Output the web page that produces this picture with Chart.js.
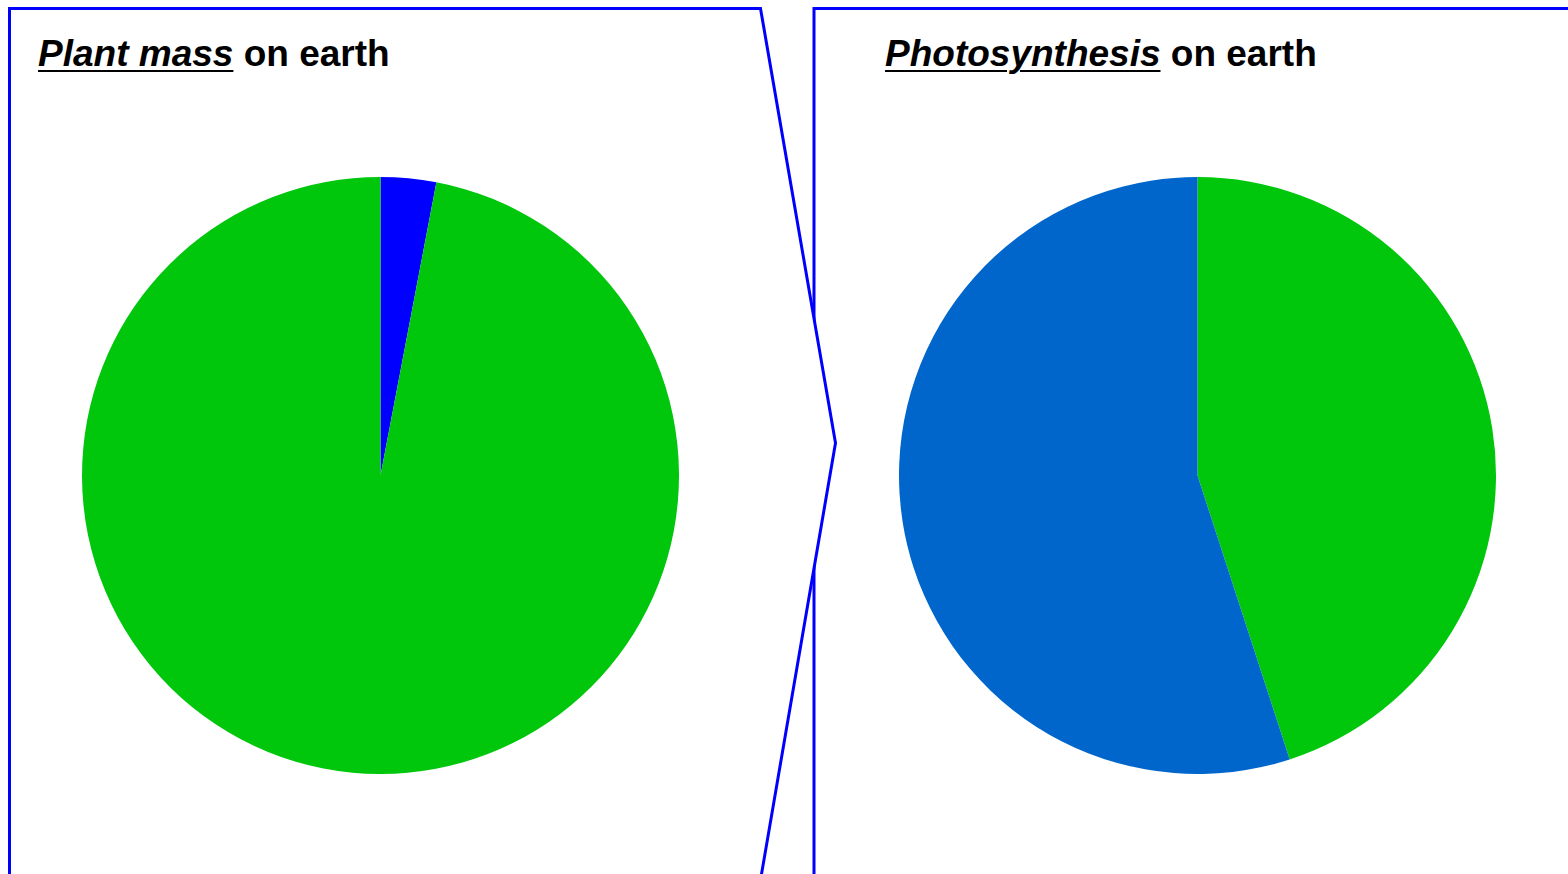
<!DOCTYPE html>
<html>
<head>
<meta charset="utf-8">
<script src="https://cdn.jsdelivr.net/npm/chart.js@4"></script>
<style>
  html, body { margin:0; padding:0; background:#fff; width:1568px; height:874px; overflow:hidden; }
  #frame { position:absolute; left:0; top:0; }
  .title { position:absolute; font-family:"Liberation Sans", Arial, sans-serif; font-weight:bold; font-size:37px; line-height:1; color:#000; white-space:nowrap; }
  .title u { text-decoration-thickness:2px; text-underline-offset:4px; }
  .pie { position:absolute; width:597px; height:597px; }
</style>
</head>
<body>
<svg id="frame" width="1568" height="874">
  <path d="M814,880 L814,8.5 L1572,8.5" fill="none" stroke="#0000FF" stroke-width="3"/>
  <path d="M9.5,880 L9.5,8.5 L760.5,8.5 L835.5,443 L760.5,880" fill="#ffffff" stroke="#0000FF" stroke-width="3" stroke-linejoin="miter"/>
</svg>
<div class="title" style="left:38px; top:35px;"><u><i>Plant mass</i></u> on earth</div>
<div class="title" style="left:885px; top:35px;"><u><i>Photosynthesis</i></u> on earth</div>
<div class="pie" style="left:82px; top:177px;"><canvas id="c1"></canvas></div>
<div class="pie" style="left:899px; top:177px;"><canvas id="c2"></canvas></div>
<script>
// Plant mass on earth (percent), clockwise from top
const massLabels = ["Ocean", "Land"];
const massValues = [3, 97];
const massColors = ["#0000FF", "#00C60C"];

// Photosynthesis on earth (percent), clockwise from top
const photoLabels = ["Land", "Ocean"];
const photoValues = [45, 55];
const photoColors = ["#00C60C", "#0066CC"];

function makePie(id, labels, values, colors) {
  return new Chart(document.getElementById(id), {
    type: "pie",
    data: {
      labels: labels,
      datasets: [{ data: values, backgroundColor: colors, borderWidth: 0, hoverOffset: 0 }]
    },
    options: {
      responsive: true,
      maintainAspectRatio: false,
      animation: false,
      layout: { padding: 0 },
      plugins: { legend: { display: false }, tooltip: { enabled: false }, title: { display: false } },
      events: []
    }
  });
}
makePie("c1", massLabels, massValues, massColors);
makePie("c2", photoLabels, photoValues, photoColors);
</script>
</body>
</html>
